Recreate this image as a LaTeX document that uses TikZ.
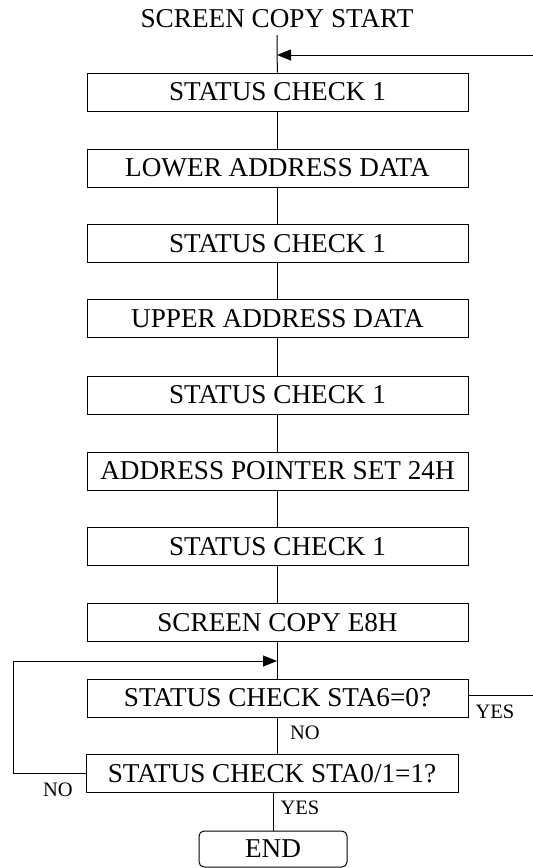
\documentclass[tikz,border=0pt]{standalone}
\usepackage{fontspec}
\setmainfont{Liberation Serif}
\usetikzlibrary{arrows.meta}

\begin{document}
\begin{tikzpicture}[x=1pt,y=1pt,yscale=-1,xscale=1,
  box/.style={draw,line width=1pt,minimum width=381pt,minimum height=38pt,inner sep=0pt,font=\fontsize{27.2}{30}\selectfont},
  lbl/.style={inner sep=0pt,font=\fontsize{20.5}{24}\selectfont},
  tip/.style={-{Triangle[length=14pt,width=11pt]}}]
\useasboundingbox (0,0) rectangle (533,868);

% Text Node
\node [inner sep=0pt,font=\fontsize{27.2}{30}\selectfont] (title) at (277,19) {SCREEN COPY START};
\coordinate (start) at (277,35);

% Boxes
\node [box] (chk1) at (277.5,92) {STATUS CHECK 1};
\node [box] (lower) at (277.5,168) {LOWER ADDRESS DATA};
\node [box] (chk2) at (277.5,243.5) {STATUS CHECK 1};
\node [box] (upper) at (277.5,318.5) {UPPER ADDRESS DATA};
\node [box] (chk3) at (277.5,395) {STATUS CHECK 1};
\node [box] (ptr) at (277.5,471) {ADDRESS POINTER SET 24H};
\node [box] (chk4) at (277.5,546.5) {STATUS CHECK 1};
\node [box] (copy) at (277.5,622.5) {SCREEN COPY E8H};
\node [box] (sta6) at (277.5,698) {STATUS CHECK STA6=0?};
\node [box,minimum width=372pt] (sta01) at (272,773.5) {STATUS CHECK STA0/1=1?};
\node [box,minimum width=148pt,minimum height=36pt,rounded corners=5pt] (end) at (273,849) {END};

% Straight Lines
\draw [line width=1pt] (start) -- (chk1);
\draw [line width=1pt] (chk1) -- (lower);
\draw [line width=1pt] (lower) -- (chk2);
\draw [line width=1pt] (chk2) -- (upper);
\draw [line width=1pt] (upper) -- (chk3);
\draw [line width=1pt] (chk3) -- (ptr);
\draw [line width=1pt] (ptr) -- (chk4);
\draw [line width=1pt] (chk4) -- (copy);
\draw [line width=1pt] (copy.south -| 277,0) -- (sta6.north -| 277,0);
\draw [line width=1pt] (sta6.south -| 277,0) -- (sta01.north -| 277,0);
\draw [line width=1pt] (sta01.south -| end.north) -- (end);

% Arrows
\coordinate (retin) at (533,55);
\draw [line width=1pt,tip] (retin) -- (retin -| start);
\coordinate (loop) at (277,661);
\coordinate (yesout) at (533,695);
\draw [line width=1pt,tip] (sta01.west) -- (13,773.5) -- (13,661) -- (loop);
\draw [line width=1pt] (sta6.east |- yesout) -- (yesout);

% Text Node
\node [lbl] (yes1) at (495,712) {YES};
\node [lbl] (no1) at (305,733) {NO};
\node [lbl] (no2) at (58,790) {NO};
\node [lbl] (yes2) at (300,808) {YES};

\end{tikzpicture}
\end{document}
